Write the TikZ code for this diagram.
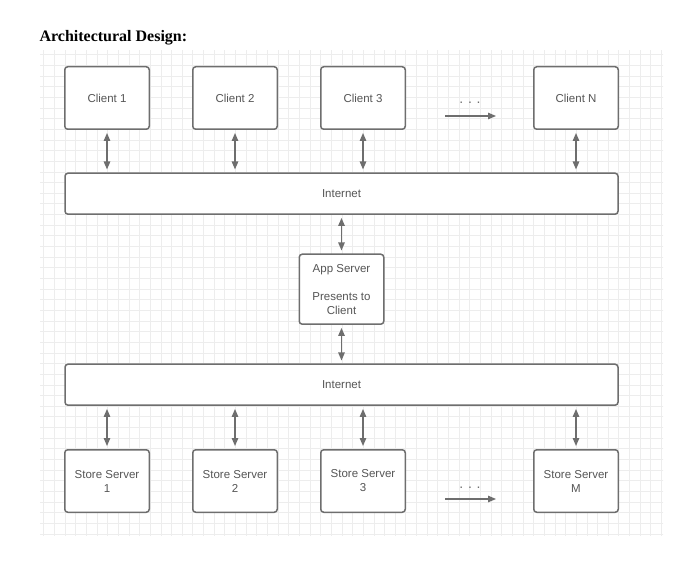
\documentclass[tikz,border=0pt]{standalone}
\usepackage{fontspec}
\setmainfont{Liberation Serif}
\setsansfont{Liberation Sans}
\usepackage{tikz}
\usetikzlibrary{arrows.meta, positioning}
\definecolor{boxgray}{HTML}{6E6E6E}
\definecolor{labelgray}{HTML}{555555}
\definecolor{gridgray}{HTML}{EDEDED}

\begin{document}
\begin{tikzpicture}[
  x=1pt, y=-1pt,
  block/.style={rectangle, rounded corners=3pt, draw=boxgray, line width=1.5pt, fill=white, minimum width=84.5pt, minimum height=62.5pt, inner sep=2pt, font=\sffamily\fontsize{11.5}{14}\selectfont, text=labelgray, align=center},
  bus/.style={block, minimum width=553pt, minimum height=41pt},
  link/.style={{Triangle[width=6.5pt,length=8pt]}-{Triangle[width=6.5pt,length=8pt]}, line width=1.3pt, draw=boxgray, shorten <=3pt, shorten >=3pt},
  more/.style={-{Triangle[width=6.5pt,length=8pt]}, line width=1.2pt, draw=boxgray},
  dots/.style={anchor=base, text=boxgray, font=\sffamily\fontsize{14}{16}\selectfont, inner sep=0pt},
  gridline/.style={draw=gridgray, line width=0.5pt}
]
  \useasboundingbox (0,0) rectangle (700,580);

  % background grid
  \begin{scope}
    \clip (40,51) rectangle (663,535);
    \draw[gridline, shift={(1,1.35)}, step=10.65pt] (20,30) grid (690,560);
  \end{scope}

  \node[anchor=base west, font=\bfseries\fontsize{16}{19}\selectfont] (title) at (36,42) {Architectural Design:};

  % clients
  \node[block] (client1) at (107,98) {Client 1};
  \node[block, right=42pt of client1] (client2) {Client 2};
  \node[block, right=42pt of client2] (client3) {Client 3};
  \node[block, right=127pt of client3] (clientN) {Client N};
  \node[dots] (dotsC) at (470,104) {.\hspace{4.8pt}.\hspace{4.8pt}.};
  \coordinate (moreCa) at (445,116);
  \coordinate (moreCb) at (496,116);

  % middle tier
  \node[bus] (inet1) at (341.5,193.7) {Internet};
  \node[block, below=38.5pt of inet1, minimum height=70pt] (app) {App Server\\[14pt]Presents to\\Client};
  \node[bus, below=38.5pt of app] (inet2) {Internet};

  % store servers
  \node[block] (store1) at (107,481) {Store Server\\1};
  \node[block, right=42pt of store1] (store2) {Store Server\\2};
  \node[block, right=42pt of store2] (store3) {Store Server\\3};
  \node[block, right=127pt of store3] (storeM) {Store Server\\M};
  \node[dots] (dotsS) at (470,488) {.\hspace{4.8pt}.\hspace{4.8pt}.};
  \coordinate (moreSa) at (445,499);
  \coordinate (moreSb) at (496,499);

  \draw[link] (client1.south) -- (client1.south |- inet1.north);
  \draw[link] (client2.south) -- (client2.south |- inet1.north);
  \draw[link] (client3.south) -- (client3.south |- inet1.north);
  \draw[link] (clientN.south) -- (clientN.south |- inet1.north);
  \draw[more] (moreCa) -- (moreCb);

  \draw[link] (inet1.south -| app.north) -- (app.north);
  \draw[link] (app.south) -- (app.south |- inet2.north);

  \draw[link] (inet2.south -| store1.north) -- (store1.north);
  \draw[link] (inet2.south -| store2.north) -- (store2.north);
  \draw[link] (inet2.south -| store3.north) -- (store3.north);
  \draw[link] (inet2.south -| storeM.north) -- (storeM.north);
  \draw[more] (moreSa) -- (moreSb);
\end{tikzpicture}
\end{document}
